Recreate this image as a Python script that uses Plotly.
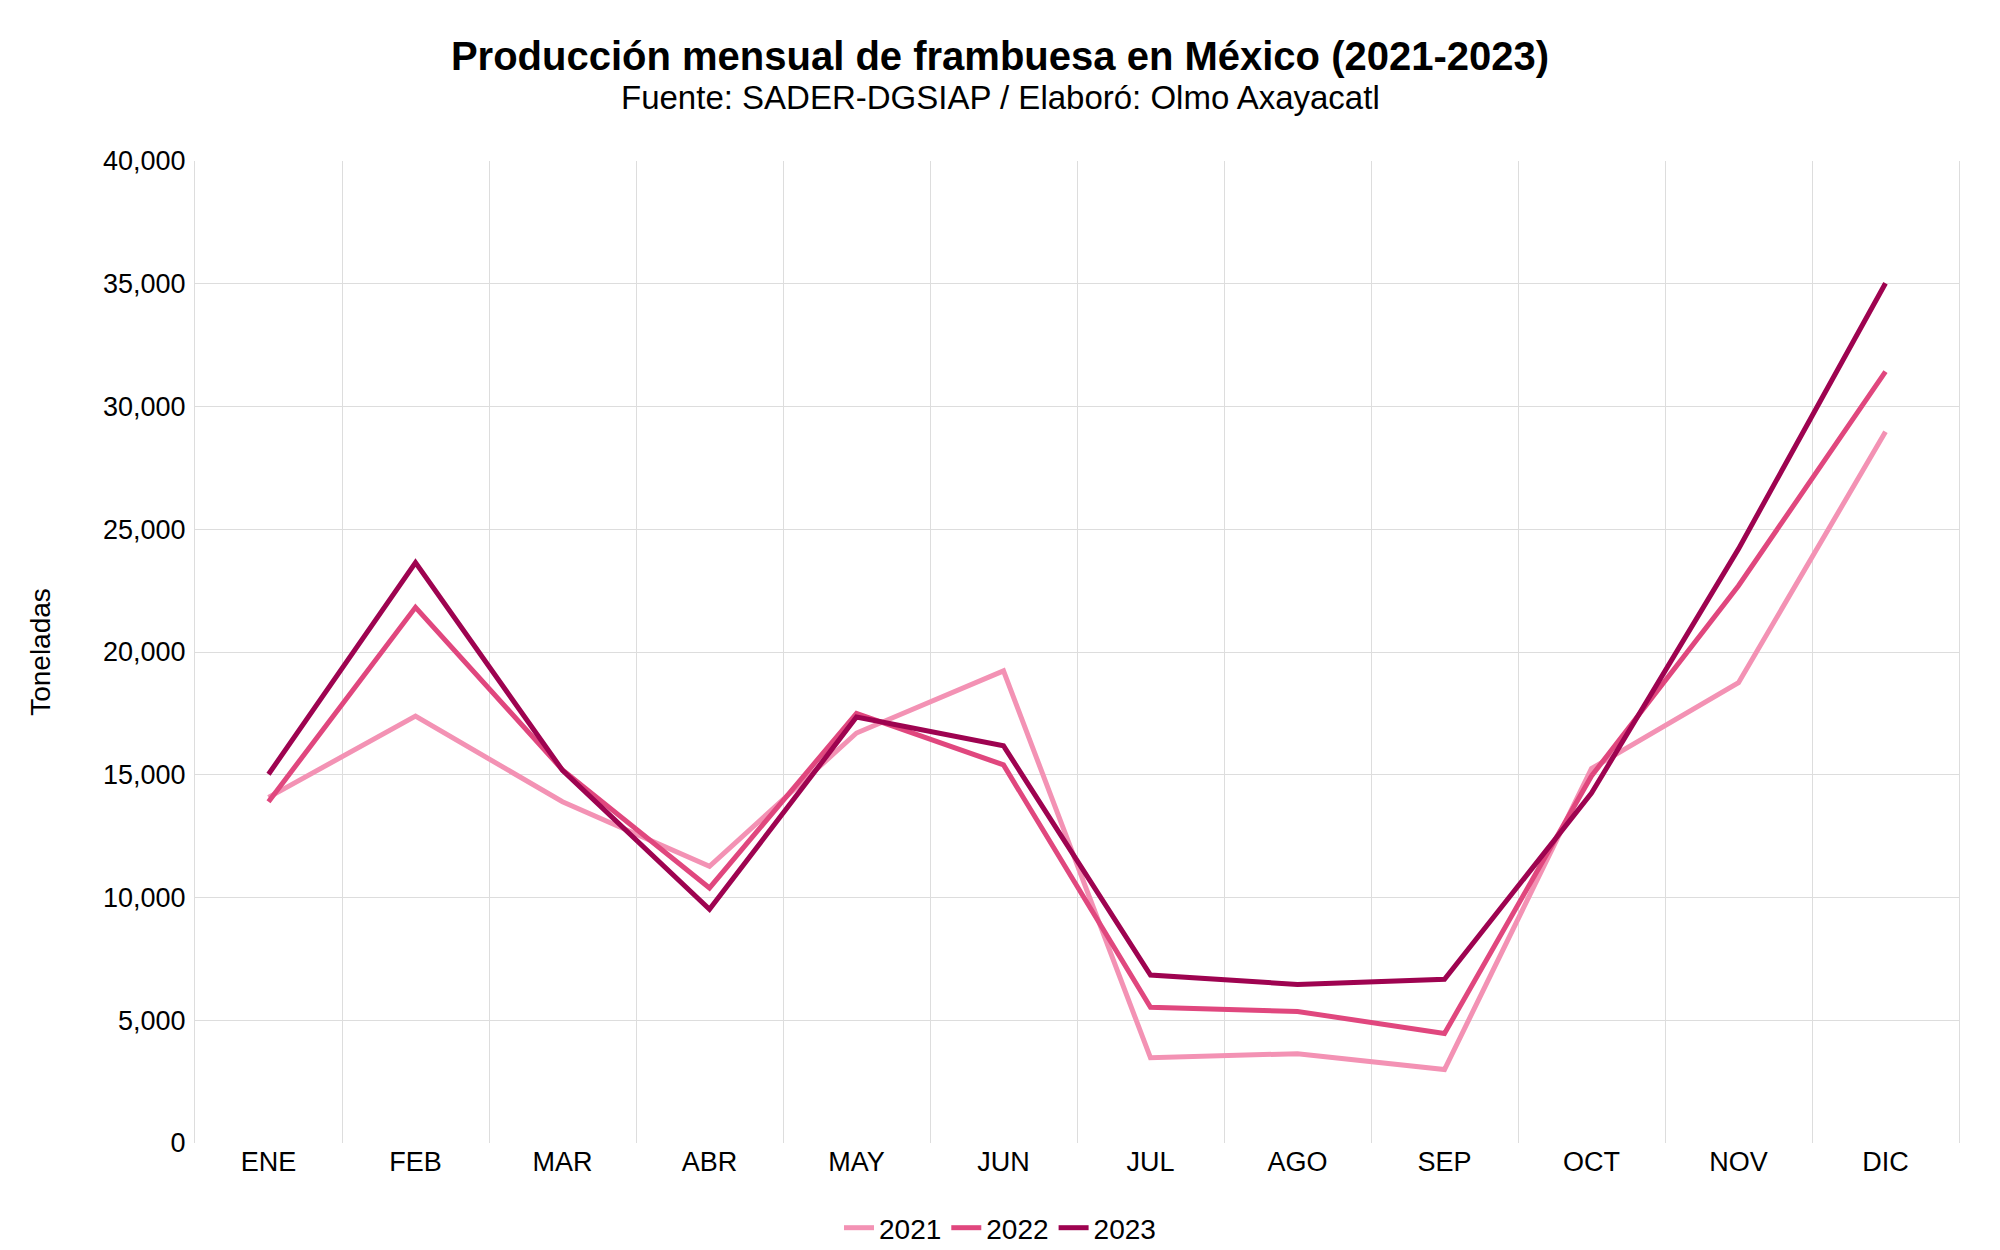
import plotly.graph_objects as go

meses = ["ENE", "FEB", "MAR", "ABR", "MAY", "JUN", "JUL", "AGO", "SEP", "OCT", "NOV", "DIC"]
prod_2021 = [14080, 17390, 13900, 11270, 16700, 19230, 3470, 3640, 2990, 15250, 18750, 28970]
prod_2022 = [13900, 21820, 15200, 10390, 17500, 15400, 5530, 5360, 4460, 14950, 22700, 31420]
prod_2023 = [15020, 23640, 15180, 9520, 17350, 16180, 6840, 6460, 6670, 14250, 24200, 35020]

series = [("2021", prod_2021, "#F392B4"), ("2022", prod_2022, "#E0477E"), ("2023", prod_2023, "#9E0350")]

FONT = "Liberation Sans, Arial, sans-serif"

fig = go.Figure()
for name, vals, col in series:
    fig.add_trace(go.Scatter(x=meses, y=vals, name=name, mode="lines",
                             line=dict(color=col, width=5)))

L, R, T, B = 195, 41, 161, 107
W, H = 2000, 1250
pw = W - L - R
ph = H - T - B
cx = (W / 2 - L) / pw

fig.update_layout(
    width=W, height=H,
    margin=dict(l=L, r=R, t=T, b=B, autoexpand=False),
    paper_bgcolor="white", plot_bgcolor="white",
    font=dict(family=FONT, size=27, color="black"),
    title=dict(text="<b>Producción mensual de frambuesa en México (2021-2023)</b>",
               x=0.5, xref="container", xanchor="center",
               y=1 - 56 / H, yref="container", yanchor="middle",
               font=dict(size=40, family=FONT, color="black")),
    annotations=[dict(text="Fuente: SADER-DGSIAP / Elaboró: Olmo Axayacatl",
                      x=cx, xref="paper", xanchor="center",
                      y=1 + (T - 97) / ph, yref="paper", yanchor="middle",
                      showarrow=False, font=dict(size=33, family=FONT, color="black"))],
    legend=dict(orientation="h", x=cx, xanchor="center", y=-(1228 - (H - B)) / ph,
                yanchor="middle", font=dict(size=28), itemwidth=30, tracegroupgap=0),
    showlegend=True,
)
fig.update_xaxes(type="category", tickson="boundaries", showgrid=True, gridcolor="#dddddd",
                 gridwidth=1, showline=False,
                 zeroline=False, ticks="", range=[-0.5, 11.5],
                 tickfont=dict(size=27), automargin=False)
fig.update_yaxes(range=[0, 40000], dtick=5000, tickformat=",", showgrid=True,
                 gridcolor="#dddddd", gridwidth=1, zeroline=False,
                 showline=True, linecolor="#dddddd", mirror=True, ticks="",
                 tickfont=dict(size=27), automargin=False, ticklabelstandoff=3,
                 title=dict(text="Toneladas", standoff=44, font=dict(size=28)))

fig.write_html("out.html")
